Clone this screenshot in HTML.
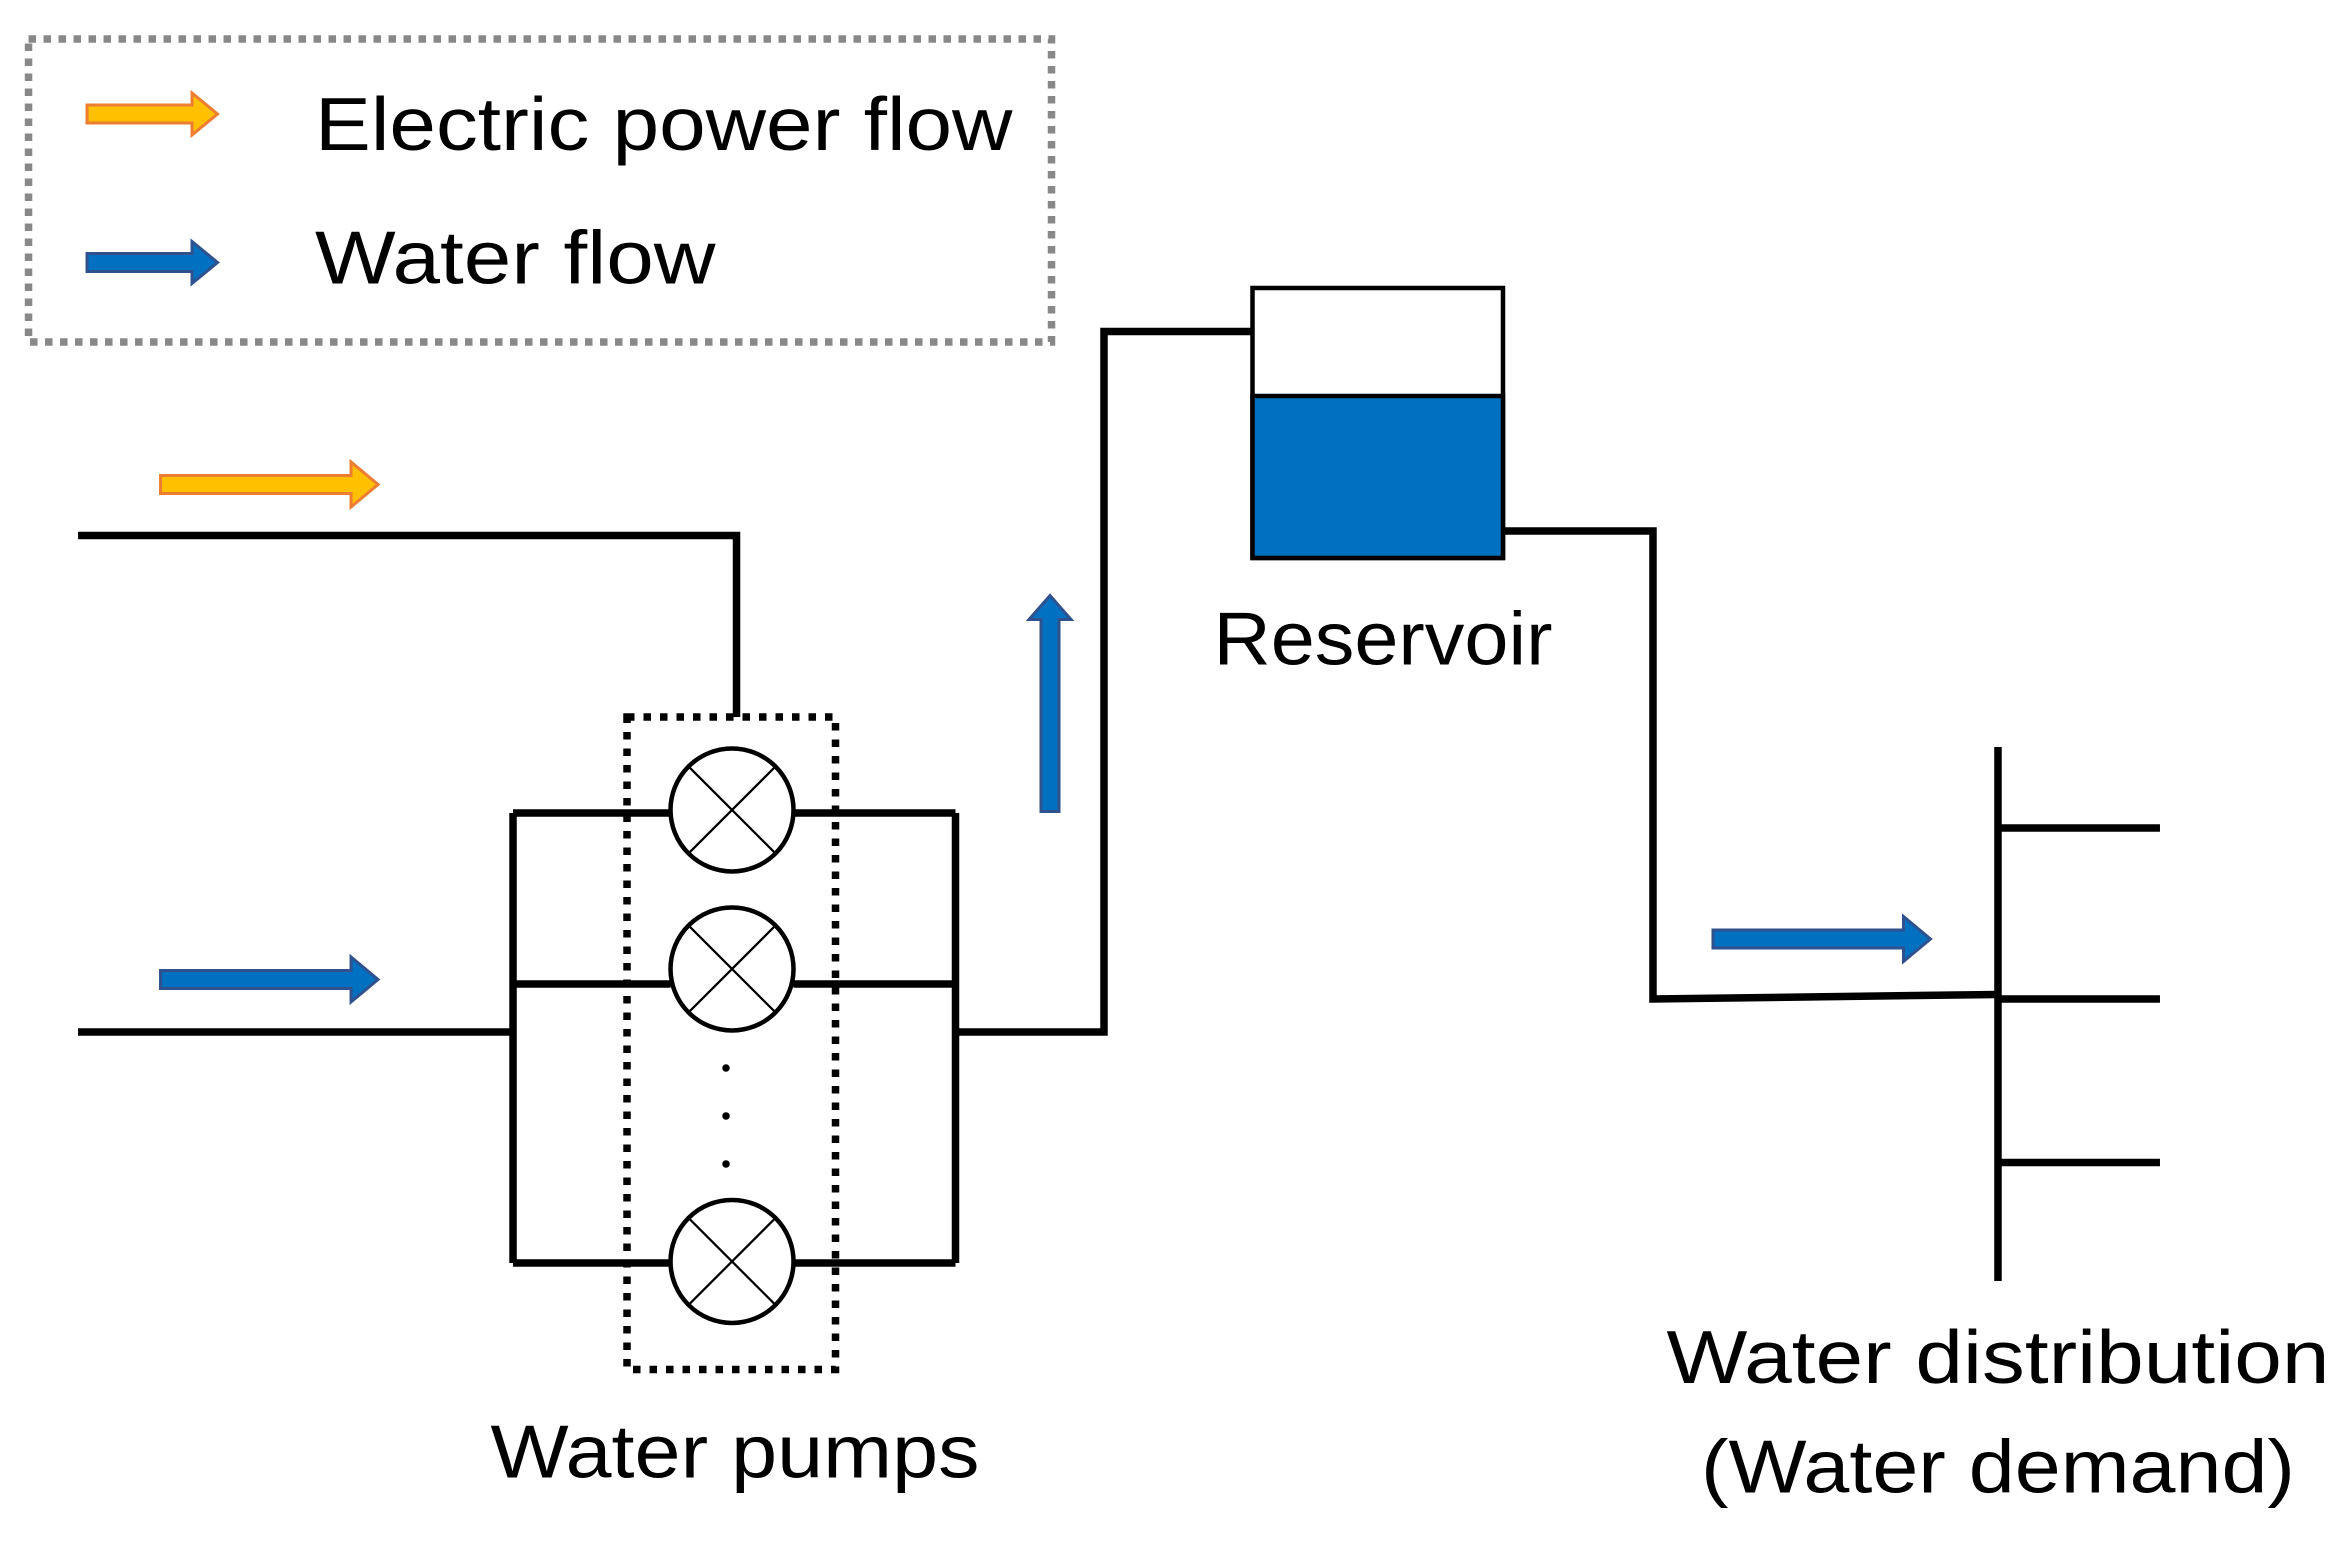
<!DOCTYPE html>
<html><head><meta charset="utf-8"><style>
html,body{margin:0;padding:0;background:#fff;}
svg{display:block;}
text{font-family:"Liberation Sans",sans-serif;fill:#000;}
</style></head><body>
<svg width="2352" height="1543" viewBox="0 0 1568 1028.7" xmlns="http://www.w3.org/2000/svg">
<defs>
<g id="arrH"><path d="M0,-6 L78,-6 L78,-15 L94,0 L78,15 L78,6 L0,6 Z"/></g>
</defs>
<!-- legend -->
<rect x="19" y="26" width="682" height="202" fill="none" stroke="#888" stroke-width="5" stroke-dasharray="5,5"/>
<path d="M58,70 L128,70 L128,62 L145,76 L128,90 L128,82 L58,82 Z" fill="#FFC000" stroke="#ED7D31" stroke-width="2"/>
<path d="M58,169 L128,169 L128,161 L145,175 L128,189 L128,181 L58,181 Z" fill="#0070C0" stroke="#2F528F" stroke-width="2"/>
<text x="210" y="100" font-size="50" textLength="465" lengthAdjust="spacingAndGlyphs">Electric power flow</text>
<text x="210" y="189" font-size="50" textLength="267" lengthAdjust="spacingAndGlyphs">Water flow</text>
<!-- power line -->
<path d="M52,357 L491,357 L491,478" fill="none" stroke="#000" stroke-width="5"/>
<path d="M107,317 L234,317 L234,308 L252,323 L234,338 L234,329 L107,329 Z" fill="#FFC000" stroke="#ED7D31" stroke-width="2"/>
<path d="M107,647 L234,647 L234,638 L252,653 L234,668 L234,659 L107,659 Z" fill="#0070C0" stroke="#2F528F" stroke-width="2"/>
<!-- pump network -->
<g fill="none" stroke="#000" stroke-width="5">
<path d="M52,688 L342,688"/>
<path d="M342,542 L342,842 M637,542 L637,842"/>
<path d="M342,542 L447,542 M529,542 L637,542"/>
<path d="M342,656 L447,656 M529,656 L637,656"/>
<path d="M342,842 L447,842 M529,842 L637,842"/>
<path d="M637,688 L736,688 L736,221 L835,221"/>
</g>
<g fill="#fff" stroke="#000" stroke-width="3">
<circle cx="488" cy="540" r="41"/><circle cx="488" cy="646" r="41"/><circle cx="488" cy="841" r="41"/>
</g>
<g stroke="#000" stroke-width="1.5">
<path d="M459,511 L517,569 M517,511 L459,569"/>
<path d="M459,617 L517,675 M517,617 L459,675"/>
<path d="M459,812 L517,870 M517,812 L459,870"/>
</g>
<circle cx="484" cy="712" r="2.5"/><circle cx="484" cy="744" r="2.5"/><circle cx="484" cy="776" r="2.5"/>
<rect x="418" y="478" width="139" height="435" fill="none" stroke="#000" stroke-width="5" stroke-dasharray="5,6"/>
<!-- up arrow -->
<path d="M694,541 L694,413 L686,413 L700,397 L714,413 L706,413 L706,541 Z" fill="#0070C0" stroke="#2F528F" stroke-width="2"/>
<!-- reservoir -->
<rect x="835" y="192" width="167" height="180" fill="#fff" stroke="#000" stroke-width="3"/>
<rect x="835" y="264" width="167" height="108" fill="#0070C0" stroke="#000" stroke-width="3"/>
<g fill="none" stroke="#000" stroke-width="5">
<path d="M1002,354 L1102,354 L1102,666 L1332,663"/>
<path d="M1332,498 L1332,854"/>
<path d="M1332,552 L1440,552 M1332,666 L1440,666 M1332,775 L1440,775"/>
</g>
<path d="M1142,620 L1269,620 L1269,611 L1287,626 L1269,641 L1269,632 L1142,632 Z" fill="#0070C0" stroke="#2F528F" stroke-width="2"/>
<text x="922" y="443" font-size="50" text-anchor="middle" textLength="226" lengthAdjust="spacingAndGlyphs">Reservoir</text>
<text x="490" y="985" font-size="50" text-anchor="middle" textLength="326" lengthAdjust="spacingAndGlyphs">Water pumps</text>
<text x="1332" y="922" font-size="50" text-anchor="middle" textLength="442" lengthAdjust="spacingAndGlyphs">Water distribution</text>
<text x="1332" y="995" font-size="50" text-anchor="middle" textLength="396" lengthAdjust="spacingAndGlyphs">(Water demand)</text>
</svg>
</body></html>
